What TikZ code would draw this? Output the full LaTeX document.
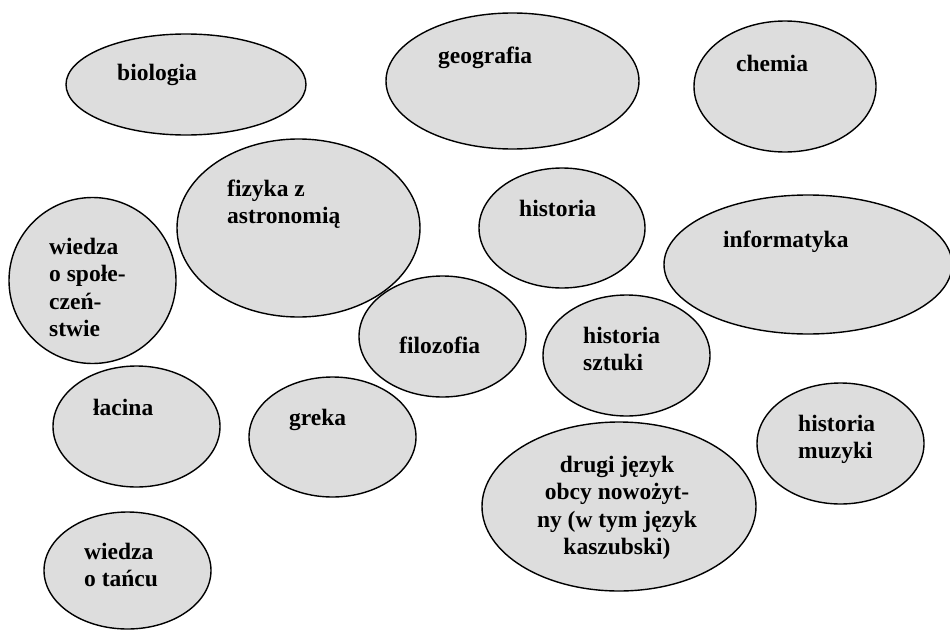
\documentclass[tikz,border=0pt]{standalone}
\usepackage{fontspec}
\setmainfont{Liberation Serif}
\usetikzlibrary{shapes.geometric}
\definecolor{bubblefill}{HTML}{DDDDDD}
\newcommand{\leftlines}[1]{\vtop{\halign{##\hfil\cr#1\crcr}}}
\newcommand{\centerlines}[1]{\vtop{\halign{\hfil##\hfil\cr#1\crcr}}}
\tikzset{
  bubble/.style 2 args={ellipse, draw=black, line width=1.4pt, fill=bubblefill,
    inner sep=0pt, minimum width=#1pt, minimum height=#2pt},
  lbl/.style={anchor=base west, inner sep=0pt, font=\fontsize{23.5}{27.6}\selectfont\bfseries},
  clbl/.style={lbl, anchor=base},
}
\begin{document}
\begin{tikzpicture}[x=1pt,y=-1pt]
\useasboundingbox (0,0) rectangle (950,629);
% ellipses
\node[bubble={240}{101}] (biol) at (186,84.5) {};
\node[bubble={253}{136}] (geog) at (512.5,81) {};
\node[bubble={182}{131}] (chem) at (785,86.5) {};
\node[bubble={243}{178}] (fiz) at (298.5,228) {};
\node[bubble={166}{120}] (hist) at (562,228) {};
\node[bubble={288}{139}] (inf) at (808,264.5) {};
\node[bubble={167}{166}] (wos) at (92.5,280.5) {};
\node[bubble={167}{121}] (filo) at (442.5,336.5) {};
\node[bubble={167}{121}] (hsz) at (626.5,355.5) {};
\node[bubble={167}{121}] (lac) at (136.5,426.5) {};
\node[bubble={167}{120}] (grek) at (332.5,437) {};
\node[bubble={167}{121}] (hmu) at (840.5,443.5) {};
\node[bubble={274}{169}] (jez) at (619,506.5) {};
\node[bubble={167}{117}] (wot) at (127.5,570.5) {};
% labels
\node[lbl] (tbiol) at (117,80) {biologia};
\node[lbl] (tgeog) at (438,63) {geografia};
\node[lbl] (tchem) at (736,71) {chemia};
\node[lbl] (tfiz) at (227,196) {\leftlines{fizyka z\cr astronomią}};
\node[lbl] (thist) at (519,216) {historia};
\node[lbl] (tinf) at (723,247) {informatyka};
\node[lbl] (twos) at (49,254) {\leftlines{wiedza\cr o społe-\cr czeń-\cr stwie}};
\node[lbl] (tfilo) at (399,353) {filozofia};
\node[lbl] (thsz) at (583,343) {\leftlines{historia\cr sztuki}};
\node[lbl] (tlac) at (93,415) {łacina};
\node[lbl] (tgrek) at (289,425) {greka};
\node[lbl] (thmu) at (798,431) {\leftlines{historia\cr muzyki}};
\node[clbl] (tjez) at (617,472) {\centerlines{drugi język\cr obcy nowożyt-\cr ny (w tym język\cr kaszubski)}};
\node[lbl] (twot) at (84,559) {\leftlines{wiedza\cr o tańcu}};
\end{tikzpicture}
\end{document}
